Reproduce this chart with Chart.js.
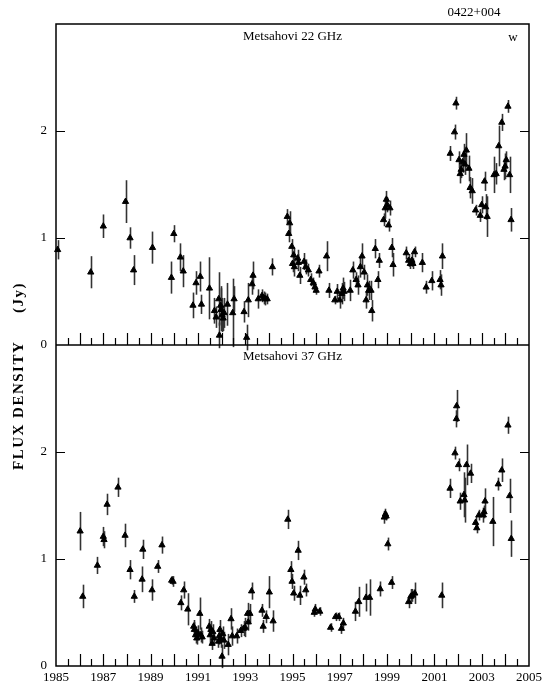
<!DOCTYPE html>
<html>
<head>
<meta charset="utf-8">
<script src="https://cdn.jsdelivr.net/npm/chart.js@4.4.1/dist/chart.umd.min.js"></script>
<style>
  html, body { margin: 0; padding: 0; background: #fff; }
  #wrap { position: relative; width: 551px; height: 690px; }
</style>
</head>
<body>
<div id="wrap"><canvas id="flux" width="551" height="690"></canvas></div>
<script>
// Metsahovi 22 GHz light curve: epoch (yr), flux density (Jy), 1-sigma error (Jy)
const year22 = [
  1985.07, 1986.47, 1987.00, 1987.94, 1988.13, 1988.28, 1989.08, 1989.88, 1989.98, 1990.26,
  1990.38, 1990.79, 1990.92, 1991.10, 1991.15, 1991.49, 1991.70, 1991.77, 1991.88, 1991.91,
  1991.96, 1991.98, 1992.02, 1992.07, 1992.11, 1992.25, 1992.47, 1992.53, 1992.95, 1993.06,
  1993.13, 1993.29, 1993.33, 1993.55, 1993.71, 1993.78, 1993.85, 1993.93, 1994.15, 1994.78,
  1994.84, 1994.88, 1994.97, 1995.00, 1995.05, 1995.08, 1995.22, 1995.25, 1995.31, 1995.49,
  1995.56, 1995.67, 1995.77, 1995.88, 1995.95, 1996.00, 1996.12, 1996.44, 1996.54, 1996.79,
  1996.89, 1996.99, 1997.08, 1997.14, 1997.18, 1997.44, 1997.55, 1997.69, 1997.77, 1997.87,
  1997.94, 1998.03, 1998.11, 1998.17, 1998.22, 1998.32, 1998.35, 1998.50, 1998.61, 1998.67,
  1998.85, 1998.92, 1998.97, 1999.00, 1999.06, 1999.12, 1999.20, 1999.25, 1999.81, 1999.91,
  1999.98, 2000.05, 2000.09, 2000.16, 2000.49, 2000.65, 2000.89, 2001.24, 2001.28, 2001.34,
  2001.67, 2001.85, 2001.91, 2002.04, 2002.09, 2002.13, 2002.19, 2002.25, 2002.29, 2002.35,
  2002.46, 2002.51, 2002.60, 2002.74, 2002.94, 2003.00, 2003.12, 2003.17, 2003.23, 2003.52,
  2003.61, 2003.72, 2003.85, 2003.94, 2003.99, 2004.04, 2004.11, 2004.18, 2004.24
];
const flux22 = [
  0.89, 0.68, 1.11, 1.34, 1.00, 0.70, 0.91, 0.63, 1.04, 0.82,
  0.69, 0.37, 0.58, 0.64, 0.38, 0.53, 0.32, 0.26, 0.43, 0.09,
  0.37, 0.33, 0.28, 0.25, 0.30, 0.38, 0.30, 0.43, 0.31, 0.07,
  0.42, 0.57, 0.65, 0.43, 0.46, 0.44, 0.43, 0.43, 0.73, 1.20,
  1.04, 1.14, 0.92, 0.76, 0.84, 0.73, 0.81, 0.77, 0.65, 0.78,
  0.73, 0.70, 0.61, 0.58, 0.54, 0.51, 0.69, 0.83, 0.51, 0.42,
  0.50, 0.42, 0.48, 0.53, 0.50, 0.51, 0.70, 0.61, 0.56, 0.73,
  0.83, 0.68, 0.42, 0.56, 0.51, 0.51, 0.32, 0.90, 0.61, 0.79,
  1.17, 1.28, 1.36, 1.31, 1.12, 1.28, 0.91, 0.75, 0.86, 0.79,
  0.76, 0.79, 0.76, 0.87, 0.77, 0.54, 0.60, 0.61, 0.56, 0.83,
  1.79, 1.99, 2.26, 1.73, 1.60, 1.64, 1.71, 1.78, 1.69, 1.82,
  1.65, 1.47, 1.44, 1.26, 1.21, 1.31, 1.53, 1.29, 1.20, 1.59,
  1.60, 1.86, 2.08, 1.64, 1.67, 1.73, 2.23, 1.59, 1.17
];
const err22 = [
  0.09, 0.15, 0.11, 0.20, 0.10, 0.14, 0.15, 0.15, 0.08, 0.13,
  0.15, 0.12, 0.11, 0.14, 0.09, 0.29, 0.12, 0.10, 0.25, 0.12,
  0.18, 0.20, 0.16, 0.12, 0.14, 0.20, 0.32, 0.12, 0.10, 0.12,
  0.16, 0.10, 0.13, 0.09, 0.06, 0.06, 0.06, 0.05, 0.08, 0.07,
  0.08, 0.11, 0.07, 0.08, 0.07, 0.09, 0.08, 0.08, 0.08, 0.08,
  0.07, 0.06, 0.06, 0.05, 0.05, 0.04, 0.06, 0.14, 0.07, 0.04,
  0.07, 0.08, 0.10, 0.10, 0.09, 0.10, 0.08, 0.07, 0.09, 0.10,
  0.12, 0.07, 0.08, 0.10, 0.09, 0.09, 0.10, 0.09, 0.08, 0.07,
  0.06, 0.10, 0.08, 0.07, 0.06, 0.07, 0.09, 0.11, 0.06, 0.06,
  0.05, 0.06, 0.05, 0.05, 0.09, 0.06, 0.09, 0.09, 0.10, 0.12,
  0.07, 0.07, 0.06, 0.08, 0.09, 0.08, 0.10, 0.10, 0.10, 0.16,
  0.12, 0.10, 0.12, 0.05, 0.06, 0.08, 0.09, 0.12, 0.19, 0.17,
  0.10, 0.19, 0.08, 0.10, 0.12, 0.08, 0.06, 0.17, 0.11
];

// Metsahovi 37 GHz light curve
const year37 = [
  1986.02, 1986.13, 1986.75, 1987.00, 1987.03, 1987.16, 1987.62, 1987.92, 1988.13, 1988.31,
  1988.64, 1988.67, 1989.06, 1989.30, 1989.48, 1989.89, 1989.95, 1990.28, 1990.40, 1990.57,
  1990.82, 1990.85, 1990.90, 1990.95, 1991.00, 1991.08, 1991.12, 1991.18, 1991.48, 1991.52,
  1991.55, 1991.60, 1991.63, 1991.68, 1991.87, 1991.90, 1991.93, 1991.97, 1992.02, 1992.05,
  1992.10, 1992.28, 1992.40, 1992.45, 1992.64, 1992.81, 1992.93, 1993.00, 1993.10, 1993.13,
  1993.20, 1993.27, 1993.71, 1993.76, 1993.89, 1994.02, 1994.18, 1994.80, 1994.93, 1994.98,
  1995.05, 1995.24, 1995.31, 1995.48, 1995.56, 1995.92, 1995.96, 1996.15, 1996.61, 1996.82,
  1996.95, 1997.07, 1997.15, 1997.66, 1997.80, 1998.11, 1998.26, 1998.71, 1998.88, 1998.93,
  1998.96, 1999.03, 1999.19, 1999.91, 2000.00, 2000.07, 2000.17, 2001.31, 2001.66, 2001.87,
  2001.93, 2001.94, 2002.02, 2002.09, 2002.25, 2002.28, 2002.36, 2002.53, 2002.74, 2002.79,
  2002.88, 2003.07, 2003.10, 2003.14, 2003.47, 2003.70, 2003.85, 2004.11, 2004.18, 2004.25
];
const flux37 = [
  1.26, 0.65, 0.94, 1.21, 1.18, 1.51, 1.67, 1.22, 0.90, 0.65,
  0.81, 1.09, 0.71, 0.93, 1.13, 0.80, 0.79, 0.59, 0.71, 0.53,
  0.37, 0.34, 0.29, 0.26, 0.31, 0.49, 0.29, 0.27, 0.37, 0.29,
  0.34, 0.21, 0.32, 0.26, 0.23, 0.28, 0.34, 0.25, 0.09, 0.30,
  0.24, 0.20, 0.44, 0.28, 0.28, 0.33, 0.35, 0.36, 0.49, 0.41,
  0.49, 0.70, 0.52, 0.37, 0.46, 0.69, 0.42, 1.37, 0.90, 0.79,
  0.68, 1.08, 0.66, 0.83, 0.71, 0.50, 0.53, 0.51, 0.36, 0.46,
  0.46, 0.35, 0.40, 0.51, 0.60, 0.64, 0.64, 0.72, 1.39, 1.42,
  1.40, 1.14, 0.78, 0.60, 0.65, 0.66, 0.68, 0.66, 1.66, 1.99,
  2.31, 2.43, 1.88, 1.54, 1.60, 1.55, 1.88, 1.80, 1.34, 1.29,
  1.41, 1.41, 1.44, 1.54, 1.35, 1.70, 1.83, 2.25, 1.59, 1.19
];
const err37 = [
  0.18, 0.11, 0.08, 0.09, 0.08, 0.10, 0.09, 0.11, 0.09, 0.06,
  0.12, 0.09, 0.10, 0.06, 0.08, 0.04, 0.05, 0.07, 0.08, 0.15,
  0.06, 0.07, 0.08, 0.06, 0.07, 0.15, 0.07, 0.06, 0.07, 0.08,
  0.08, 0.06, 0.07, 0.06, 0.06, 0.08, 0.09, 0.08, 0.11, 0.07,
  0.08, 0.10, 0.10, 0.09, 0.07, 0.06, 0.07, 0.09, 0.10, 0.08,
  0.09, 0.08, 0.06, 0.06, 0.06, 0.15, 0.10, 0.09, 0.08, 0.07,
  0.07, 0.09, 0.09, 0.07, 0.06, 0.04, 0.05, 0.04, 0.04, 0.04,
  0.04, 0.05, 0.05, 0.09, 0.14, 0.13, 0.17, 0.07, 0.06, 0.05,
  0.04, 0.06, 0.06, 0.06, 0.07, 0.06, 0.10, 0.12, 0.09, 0.06,
  0.08, 0.15, 0.06, 0.08, 0.21, 0.21, 0.19, 0.09, 0.06, 0.05,
  0.05, 0.07, 0.06, 0.12, 0.23, 0.06, 0.11, 0.08, 0.16, 0.17
];

// axis labels
const yearLabels = [1985, 1987, 1989, 1991, 1993, 1995, 1997, 1999, 2001, 2003, 2005];
const fluxLabels = [0, 1, 2];
const sourceName = '0422+004';
const yTitle = 'FLUX DENSITY';
const yUnit = '(Jy)';

const serif = '"Liberation Serif", "Times New Roman", serif';

function toPoints(xs, ys) {
  return xs.map((x, i) => ({ x: x, y: ys[i] }));
}

// vertical error bars, drawn under the triangles
const errorBars = {
  id: 'errorBars',
  beforeDatasetsDraw(chart) {
    const ctx = chart.ctx;
    const xs = chart.scales.x;
    ctx.save();
    ctx.strokeStyle = '#333';
    ctx.lineWidth = 1.6;
    chart.data.datasets.forEach(ds => {
      const ys = chart.scales[ds.yAxisID];
      ds.data.forEach((p, i) => {
        const px = Math.round(xs.getPixelForValue(p.x)) + 0.5;
        ctx.beginPath();
        ctx.moveTo(px, ys.getPixelForValue(p.y - ds.errors[i]));
        ctx.lineTo(px, ys.getPixelForValue(p.y + ds.errors[i]));
        ctx.stroke();
      });
    });
    ctx.restore();
  }
};

// box around both panels, inward ticks and the panel captions
const frame = {
  id: 'frame',
  afterDraw(chart) {
    const ctx = chart.ctx;
    const a = chart.chartArea;
    const xs = chart.scales.x;
    const panels = [chart.scales.y22, chart.scales.y37];
    ctx.save();
    ctx.strokeStyle = '#000';
    ctx.lineWidth = 1.5;
    ctx.strokeRect(a.left, a.top, a.right - a.left, a.bottom - a.top);
    ctx.beginPath();
    ctx.moveTo(a.left, panels[0].bottom);
    ctx.lineTo(a.right, panels[0].bottom);
    ctx.stroke();

    ctx.lineWidth = 1.2;
    panels.forEach(ys => {
      // half-year ticks along the bottom of each panel
      for (let i = 1; i < 40; i++) {
        const px = Math.round(xs.getPixelForValue(1985 + i / 2)) + 0.5;
        const len = i % 2 === 0 ? 12 : 7;
        ctx.beginPath();
        ctx.moveTo(px, ys.bottom);
        ctx.lineTo(px, ys.bottom - len);
        ctx.stroke();
      }
      // flux ticks on both sides
      [1, 2].forEach(v => {
        const py = Math.round(ys.getPixelForValue(v)) + 0.5;
        ctx.beginPath();
        ctx.moveTo(a.left, py);
        ctx.lineTo(a.left + 9, py);
        ctx.moveTo(a.right, py);
        ctx.lineTo(a.right - 9, py);
        ctx.stroke();
      });
    });

    ctx.fillStyle = '#000';
    ctx.textAlign = 'center';
    ctx.textBaseline = 'middle';
    ctx.font = '13px ' + serif;
    const cx = (a.left + a.right) / 2;
    ctx.fillText(chart.data.datasets[0].label, cx, panels[0].top + 13);
    ctx.fillText(chart.data.datasets[1].label, cx, panels[1].top + 12);
    ctx.fillText('w', a.right - 16, panels[0].top + 14);
    ctx.fillText(sourceName, 474, 13);

    // rotated axis title: name from the bottom, unit further up
    ctx.translate(19, 0);
    ctx.rotate(-Math.PI / 2);
    ctx.font = 'bold 15px ' + serif;
    ctx.letterSpacing = '1.5px';
    ctx.textAlign = 'left';
    ctx.fillText(yTitle, -470, 0);
    ctx.textAlign = 'right';
    ctx.fillText(yUnit, -282, 0);
    ctx.restore();
  }
};

function fluxAxis() {
  return {
    type: 'linear',
    position: 'left',
    stack: 'flux',
    min: 0,
    max: 3,
    afterBuildTicks: s => { s.ticks = fluxLabels.map(v => ({ value: v })); },
    afterFit: s => { s.width = 56; },
    grid: { display: false, drawTicks: false },
    border: { display: false },
    ticks: {
      padding: 9,
      color: '#000',
      font: { family: serif, size: 13 },
      callback: v => String(v)
    }
  };
}

const ctx = document.getElementById('flux').getContext('2d');
new Chart(ctx, {
  type: 'scatter',
  data: {
    datasets: [
      {
        label: 'Metsahovi 22 GHz',
        data: toPoints(year22, flux22),
        errors: err22,
        yAxisID: 'y22'
      },
      {
        label: 'Metsahovi 37 GHz',
        data: toPoints(year37, flux37),
        errors: err37,
        yAxisID: 'y37'
      }
    ]
  },
  options: {
    responsive: false,
    animation: false,
    devicePixelRatio: 1,
    clip: false,
    layout: { padding: { top: 24, right: 22, bottom: 0, left: 0 } },
    elements: {
      point: {
        pointStyle: 'triangle',
        radius: 3.6,
        borderWidth: 1,
        backgroundColor: '#000',
        borderColor: '#000'
      }
    },
    plugins: {
      legend: { display: false },
      tooltip: { enabled: false }
    },
    scales: {
      x: {
        type: 'linear',
        position: 'bottom',
        min: 1985,
        max: 2005,
        afterBuildTicks: s => { s.ticks = yearLabels.map(v => ({ value: v })); },
        afterFit: s => { s.height = 24; },
        grid: { display: false, drawTicks: false },
        border: { display: false },
        ticks: {
          padding: 4,
          color: '#000',
          maxRotation: 0,
          autoSkip: false,
          font: { family: serif, size: 13 },
          callback: v => String(v)
        }
      },
      // the stack is filled from the top with the last-defined axis
      y37: fluxAxis(),
      y22: fluxAxis()
    }
  },
  plugins: [errorBars, frame]
});
</script>
</body>
</html>
